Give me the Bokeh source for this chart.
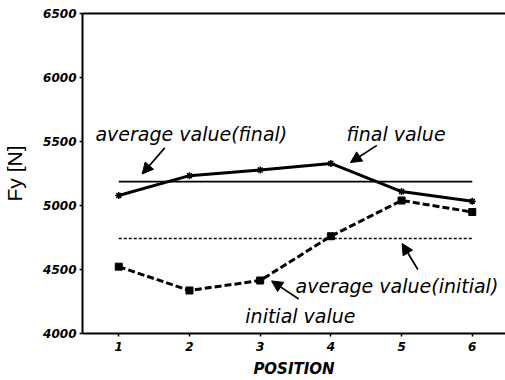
from bokeh.plotting import figure
from bokeh.models import (Range1d, FixedTicker, LinearAxis, Arrow, NormalHead, Label)
from bokeh.embed import file_html
from bokeh.resources import INLINE

# ---- data ----
positions = [1, 2, 3, 4, 5, 6]
final_values = [5078, 5233, 5277, 5329, 5109, 5034]
initial_values = [4522, 4336, 4414, 4760, 5039, 4949]
average_final = 5186
average_initial = 4742
y_ticks = [4000, 4500, 5000, 5500, 6000, 6500]

# annotation texts and arrow positions (data units)
notes = [
    ("average value(final)", 0.67, 5556),
    ("final value", 4.22, 5556),
    ("average value(initial)", 3.50, 4375),
    ("initial value", 2.79, 4135),
]
arrows = [
    (1.650, 5450, 1.331, 5246),
    (4.650, 5470, 4.277, 5336),
    (5.230, 4500, 5.008, 4703),
    (3.545, 4270, 3.160, 4411),
]

TICK_FONT = "DejaVu Sans"

p = figure(width=505, height=380, output_backend="svg", toolbar_location=None,
           x_range=Range1d(0.487, 6.47), y_range=Range1d(4000, 6500),
           min_border_left=82, min_border_right=0, min_border_top=13,
           min_border_bottom=46)
p.outline_line_color = None
p.grid.visible = False
p.background_fill_color = "white"

# axes styling
for ax in (p.xaxis[0], p.yaxis[0]):
    ax.axis_line_width = 2
    ax.axis_line_color = "black"
    ax.major_tick_out = 3
    ax.major_tick_in = 0
    ax.major_tick_line_width = 1.5
    ax.minor_tick_out = 0
    ax.minor_tick_in = 0
    ax.major_label_text_font = TICK_FONT
    ax.major_label_text_font_style = "bold italic"
    ax.major_label_text_font_size = "12px"
    ax.major_label_text_color = "black"

p.xaxis[0].ticker = FixedTicker(ticks=positions)
p.yaxis[0].ticker = FixedTicker(ticks=y_ticks)
p.xaxis[0].major_label_standoff = 5
p.yaxis[0].major_label_standoff = 3

p.xaxis[0].axis_label = "POSITION"
p.xaxis[0].axis_label_text_font = TICK_FONT
p.xaxis[0].axis_label_text_font_style = "bold italic"
p.xaxis[0].axis_label_text_font_size = "15px"
p.xaxis[0].axis_label_text_color = "black"
p.xaxis[0].axis_label_standoff = 6

p.yaxis[0].axis_label = "Fy [N]"
p.yaxis[0].axis_label_text_font = "Liberation Sans"
p.yaxis[0].axis_label_text_font_style = "normal"
p.yaxis[0].axis_label_text_font_size = "21px"
p.yaxis[0].axis_label_text_color = "black"
p.yaxis[0].axis_label_standoff = 14

top = LinearAxis(ticker=FixedTicker(ticks=[]), major_label_text_font_size="0px",
                 major_tick_out=0, major_tick_in=0, minor_tick_out=0, minor_tick_in=0,
                 major_label_standoff=0, axis_line_width=2, axis_line_color="black")
p.add_layout(top, "above")

# average lines
p.line([positions[0], positions[-1]], [average_final, average_final],
       line_color="black", line_width=1.8)
p.line([positions[0], positions[-1]], [average_initial, average_initial],
       line_color="black", line_width=1.5, line_dash="3 2")

# series
p.line(positions, final_values, line_color="black", line_width=3)
p.scatter(positions, final_values, marker="asterisk", size=7,
          line_color="black", line_width=1.5)
p.line(positions, initial_values, line_color="black", line_width=3, line_dash="7 3")
p.scatter(positions, initial_values, marker="square", size=7,
          fill_color="black", line_color="black")

# annotations
for txt, x, y in notes:
    p.add_layout(Label(x=x, y=y, text=txt, text_font=TICK_FONT,
                       text_font_style="italic", text_font_size="19px",
                       text_color="black", text_baseline="alphabetic"))
for xs, ys, xe, ye in arrows:
    p.add_layout(Arrow(x_start=xs, y_start=ys, x_end=xe, y_end=ye,
                       line_color="black", line_width=1.7,
                       end=NormalHead(size=11, fill_color="black",
                                      line_color="black", line_width=1)))

open("out.html", "w").write(file_html(p, INLINE))
